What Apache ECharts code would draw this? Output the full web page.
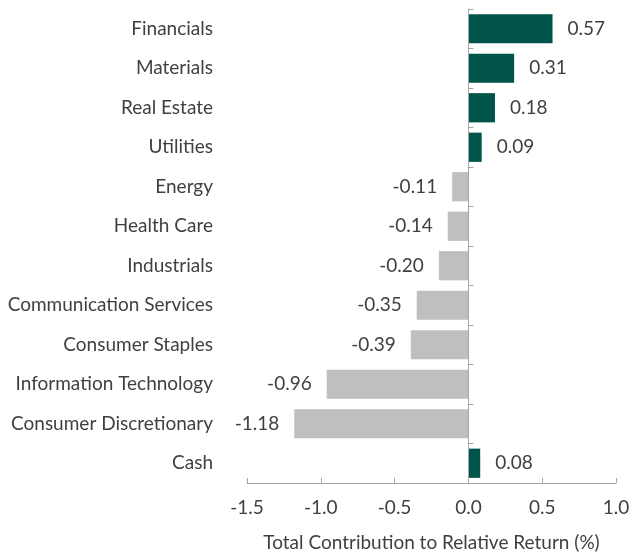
<!DOCTYPE html>
<html>
<head>
<meta charset="utf-8">
<script src="https://cdn.jsdelivr.net/npm/echarts@6/dist/echarts.min.js"></script>
<style>html,body{margin:0;padding:0;background:#fff;}#c{width:640px;height:559px;}</style>
</head>
<body>
<div id="c"></div>
<script>
const categories = ["Financials","Materials","Real Estate","Utilities","Energy","Health Care","Industrials","Communication Services","Consumer Staples","Information Technology","Consumer Discretionary","Cash"];
const values = [0.57,0.31,0.18,0.09,-0.11,-0.14,-0.20,-0.35,-0.39,-0.96,-1.18,0.08];
const xTicks = [-1.5,-1.0,-0.5,0.0,0.5,1.0];
const axisTitle = "Total Contribution to Relative Return (%)";

const FONT = "Lato";
const FS = 19;
const TXT = "#404040";
const AX = '#A6A6A6';
const xMin = xTicks[0], xMax = xTicks[xTicks.length-1];
const GRID = {left: 247, right: 24, top: 9, bottom: 76};
const W = 640;
const plotW = W - GRID.left - GRID.right;
// shift the right-side category axis inward so it sits at x = 0 of the value scale
const zeroOffset = -plotW * (xMax - 0) / (xMax - xMin);

const chart = echarts.init(document.getElementById('c'));
chart.setOption({
  animation: false,
  textStyle: {fontFamily: FONT},
  grid: GRID,
  xAxis: {
    type: 'value', min: xMin, max: xMax, interval: 0.5,
    splitLine: {show: false},
    axisLine: {show: true, onZero: false, lineStyle: {color: AX, width: 1}},
    axisTick: {show: true, inside: true, length: 5, lineStyle: {color: AX}},
    axisLabel: {color: TXT, fontSize: FS, fontFamily: FONT, margin: 15, formatter: v => v.toFixed(1)},
    name: axisTitle, nameLocation: 'middle', nameGap: 50,
    nameTextStyle: {color: TXT, fontSize: FS, fontFamily: FONT}
  },
  yAxis: [{
    type: 'category', data: categories, inverse: true,
    axisLine: {show: false, onZero: false}, axisTick: {show: false},
    axisLabel: {color: TXT, fontSize: FS, fontFamily: FONT, margin: 34}
  }, {
    type: 'category', data: categories, inverse: true, offset: zeroOffset,
    axisLine: {show: true, onZero: false, lineStyle: {color: AX, width: 1}},
    axisTick: {show: true, inside: false, length: 5, lineStyle: {color: AX, width: 1}},
    axisLabel: {show: true, formatter: () => ''}
  }],
  series: [{
    type: 'bar', yAxisIndex: 0, barCategoryGap: '26%',
    data: values.map(v => ({
      value: v,
      itemStyle: {color: v >= 0 ? '#00544A' : '#BFBFBF'},
      label: {position: v >= 0 ? 'right' : 'left'}
    })),
    label: {show: true, distance: 15, color: TXT, fontSize: FS, fontFamily: FONT, formatter: p => p.value.toFixed(2)},
    markLine: {
      silent: true, symbol: 'none', label: {show: false},
      lineStyle: {color: AX, width: 1, type: 'solid'},
      data: [{xAxis: 0}]
    }
  }]
});
</script>
</body>
</html>
